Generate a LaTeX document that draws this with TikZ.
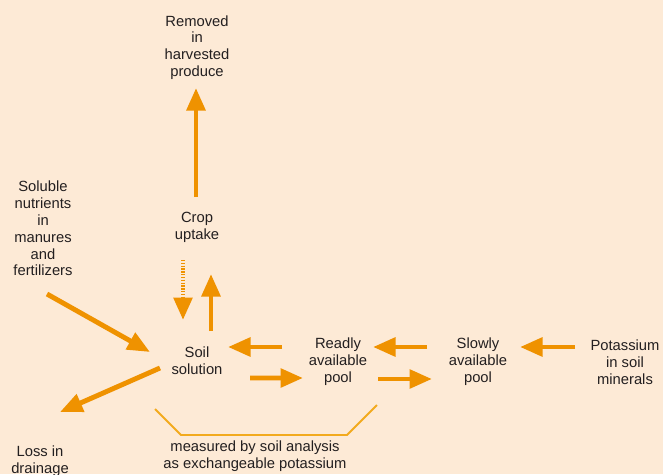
\documentclass[tikz,border=0pt]{standalone}
\usepackage{fontspec}
\setmainfont{Liberation Sans}
\usetikzlibrary{arrows.meta}

\definecolor{paper}{HTML}{FDEAD6}
\definecolor{potash}{HTML}{EF9200}
\definecolor{bracketline}{HTML}{F2AA1E}
\definecolor{ink}{HTML}{231F20}

\tikzset{
    txt/.style={text=ink, align=center, inner sep=0pt, font=\fontsize{10.5}{12}\selectfont},
    flow/.style={draw=potash, line width=3.5pt, -{Triangle[width=13pt,length=16pt]}},
    dotflow/.style={flow, dash pattern=on 1pt off 1pt}
}

\begin{document}
\begin{tikzpicture}[x=0.025cm, y=-0.025cm]
    % Background
    \fill[paper] (0,0) rectangle (663,474);
    \useasboundingbox (0,0) rectangle (663,474);
    \clip (0,0) rectangle (663,474);

    % Labels
    \node[txt] (removed) at (197,47.5) {Removed\\in\\harvested\\produce};
    \node[txt] (crop) at (197,227.5) {Crop\\uptake};
    \node[txt] (soluble) at (43,228.5) {Soluble\\nutrients\\in\\manures\\and\\fertilizers};
    \node[txt] (soil) at (197,361) {Soil\\solution};
    \node[txt] (readily) at (338,361.5) {Readly\\available\\pool};
    \node[txt] (slowly) at (478,362) {Slowly\\available\\pool};
    \node[txt] (potassium) at (625,362) {Potassium\\in soil\\minerals};
    \node[txt] (loss) at (40,461) {Loss in\\drainage};
    \node[txt] (measured) at (255,456.5) {measured by soil analysis\\as exchangeable potassium};

    % Uptake and removal
    \draw[flow] ([shift={(-1,-30.5)}]crop.center) -- ([shift={(-1,40.5)}]removed.center);
    \draw[dotflow] ([shift={(-14,32.5)}]crop.center) -- ([shift={(-14,-41)}]soil.center);
    \draw[flow] ([shift={(14,-30)}]soil.center) -- ([shift={(14,46.5)}]crop.center);

    % Inputs and losses
    \draw[flow] ([shift={(4,65.5)}]soluble.center) -- ([shift={(-47,-9)}]soil.center);
    \draw[flow] ([shift={(-37,7)}]soil.center) -- ([shift={(20,-49)}]loss.center);

    % Exchange between pools
    \draw[flow] ([shift={(-56,-14.5)}]readily.center) -- ([shift={(31,-14)}]soil.center);
    \draw[flow] ([shift={(53,17)}]soil.center) -- ([shift={(-35,16.5)}]readily.center);
    \draw[flow] ([shift={(-51,-15)}]slowly.center) -- ([shift={(35,-14.5)}]readily.center);
    \draw[flow] ([shift={(40,17.5)}]readily.center) -- ([shift={(-46,17)}]slowly.center);
    \draw[flow] ([shift={(-50,-15)}]potassium.center) -- ([shift={(42,-15)}]slowly.center);

    % Bracket for exchangeable potassium
    \draw[bracketline, line width=1.4pt] (155,409) -- (181,435) -- (347,435) -- (377,405);
\end{tikzpicture}
\end{document}
